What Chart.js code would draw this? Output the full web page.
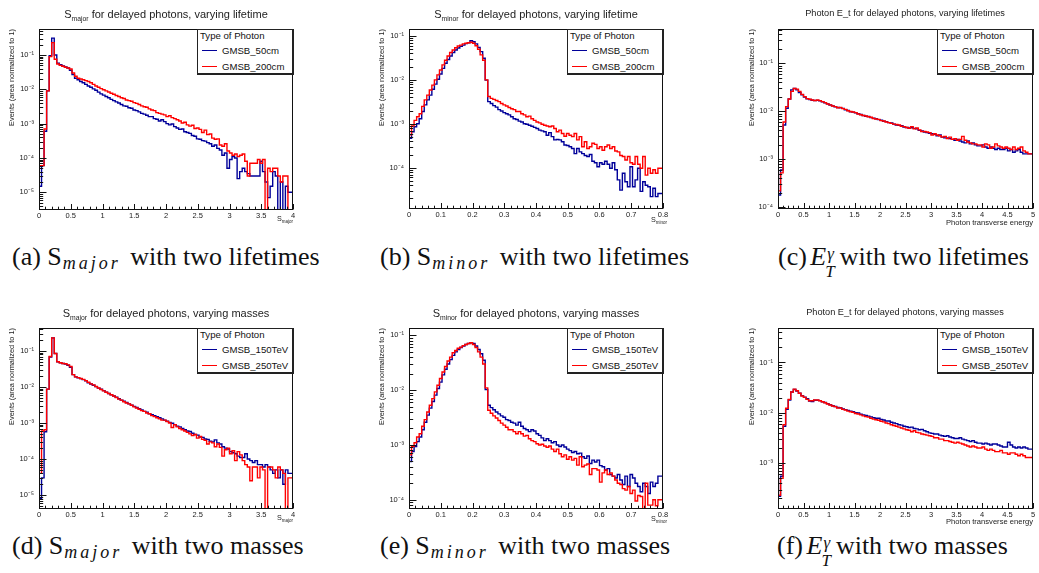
<!DOCTYPE html>
<html>
<head>
<meta charset="utf-8">
<title>Delayed photons: shower shape and transverse energy</title>
<script src="https://cdn.jsdelivr.net/npm/chart.js"></script>
<style>
  html, body { margin: 0; padding: 0; background: #fff; }
  #page { position: relative; width: 1039px; height: 573px; overflow: hidden;
          font-family: "Liberation Sans", Arial, Helvetica, sans-serif; color: #222; }
  #page canvas { position: absolute; }
  .ptitle { position: absolute; white-space: nowrap; line-height: 12px; transform: translateX(-50%); z-index: 2; }
  .ptitle.big { font-size: 11px; }
  .ptitle.small { font-size: 9.2px; }
  .ptitle sub, .xt sub { font-size: 62%; vertical-align: -0.4em; line-height: 0; }
  .xt { position: absolute; font-size: 7.2px; white-space: nowrap; line-height: 8px; z-index: 2; }
  .leg { position: absolute; box-sizing: border-box; width: 97px; height: 46px; background: #fff; color: #111;
         border: solid #222; border-width: 1px 2px 2px 1px; font-size: 9.6px; z-index: 3; }
  .leg div { position: absolute; white-space: nowrap; line-height: 11px; }
  .leg .hd { left: 2px; top: 0px; }
  .leg .sw { left: 4px; width: 15px; height: 0; border-top-width: 1.5px; border-top-style: solid; }
  .leg .tx { left: 24px; color: #111; }
  .cap { position: absolute; font-family: "Liberation Serif", "Times New Roman", serif; font-size: 26px;
         line-height: 26px; color: #111; white-space: nowrap; }
  .cap .ms { font-style: italic; font-size: 18px; letter-spacing: 3px; position: relative; top: 4px;
             margin-left: 1px; margin-right: 3px; }
  .cap .ee { font-style: italic; margin-left: -3px; }
  .cap .ss { display: inline-block; position: relative; width: 9px; height: 10px; margin-right: -2px; }
  .cap .ss i { position: absolute; font-size: 17px; line-height: 17px; }
  .cap .ss .g { left: 1px; top: -10px; }
  .cap .ss .t { left: -1px; top: 8px; }
</style>
</head>
<body>
<div id="page">
  <!-- panel titles -->
  <div class="ptitle big" style="left:166px;top:8px">S<sub>major</sub> for delayed photons, varying lifetime</div>
  <div class="ptitle big" style="left:536px;top:8px">S<sub>minor</sub> for delayed photons, varying lifetime</div>
  <div class="ptitle small" style="left:905px;top:7px">Photon E_t for delayed photons, varying lifetimes</div>
  <div class="ptitle big" style="left:166px;top:307px">S<sub>major</sub> for delayed photons, varying masses</div>
  <div class="ptitle big" style="left:536px;top:307px">S<sub>minor</sub> for delayed photons, varying masses</div>
  <div class="ptitle small" style="left:905px;top:306px">Photon E_t for delayed photons, varying masses</div>

  <!-- x-axis titles with subscripts -->
  <div class="xt" style="right:746px;top:215px">S<sub>major</sub></div>
  <div class="xt" style="right:372px;top:216px">S<sub>minor</sub></div>
  <div class="xt" style="right:746px;top:514px">S<sub>major</sub></div>
  <div class="xt" style="right:372px;top:515px">S<sub>minor</sub></div>

  <!-- legends -->
  <div class="leg" style="left:197px;top:29px">
    <div class="hd">Type of Photon</div>
    <div class="sw" style="top:20px;border-top-color:#000099"></div><div class="tx" style="top:15px">GMSB_50cm</div>
    <div class="sw" style="top:36px;border-top-color:#ff0000"></div><div class="tx" style="top:31px">GMSB_200cm</div>
  </div>
  <div class="leg" style="left:567px;top:29px">
    <div class="hd">Type of Photon</div>
    <div class="sw" style="top:20px;border-top-color:#000099"></div><div class="tx" style="top:15px">GMSB_50cm</div>
    <div class="sw" style="top:36px;border-top-color:#ff0000"></div><div class="tx" style="top:31px">GMSB_200cm</div>
  </div>
  <div class="leg" style="left:937px;top:29px">
    <div class="hd">Type of Photon</div>
    <div class="sw" style="top:20px;border-top-color:#000099"></div><div class="tx" style="top:15px">GMSB_50cm</div>
    <div class="sw" style="top:36px;border-top-color:#ff0000"></div><div class="tx" style="top:31px">GMSB_200cm</div>
  </div>
  <div class="leg" style="left:197px;top:328px">
    <div class="hd">Type of Photon</div>
    <div class="sw" style="top:20px;border-top-color:#000099"></div><div class="tx" style="top:15px">GMSB_150TeV</div>
    <div class="sw" style="top:36px;border-top-color:#ff0000"></div><div class="tx" style="top:31px">GMSB_250TeV</div>
  </div>
  <div class="leg" style="left:567px;top:328px">
    <div class="hd">Type of Photon</div>
    <div class="sw" style="top:20px;border-top-color:#000099"></div><div class="tx" style="top:15px">GMSB_150TeV</div>
    <div class="sw" style="top:36px;border-top-color:#ff0000"></div><div class="tx" style="top:31px">GMSB_250TeV</div>
  </div>
  <div class="leg" style="left:937px;top:328px">
    <div class="hd">Type of Photon</div>
    <div class="sw" style="top:20px;border-top-color:#000099"></div><div class="tx" style="top:15px">GMSB_150TeV</div>
    <div class="sw" style="top:36px;border-top-color:#ff0000"></div><div class="tx" style="top:31px">GMSB_250TeV</div>
  </div>

  <!-- sub-figure captions -->
  <div class="cap" style="left:12px;top:244px">(a) S<span class="ms">major</span> with two lifetimes</div>
  <div class="cap" style="left:380px;top:244px">(b) S<span class="ms">minor</span> with two lifetimes</div>
  <div class="cap" style="left:778px;top:244px">(c) <span class="ee">E</span><span class="ss"><i class="g">γ</i><i class="t">T</i></span> with two lifetimes</div>
  <div class="cap" style="left:12px;top:533px">(d) S<span class="ms">major</span> with two masses</div>
  <div class="cap" style="left:380px;top:533px">(e) S<span class="ms">minor</span> with two masses</div>
  <div class="cap" style="left:777px;top:533px">(f) <span class="ee">E</span><span class="ss"><i class="g">γ</i><i class="t">T</i></span> with two masses</div>
</div>

<script>
// ---------- histogram contents (100 bins each, area normalised to 1) ----------

// S_major, lifetime comparison (x from 0 to 4)
const smajLife50 = [
  6e-5, 1.5e-5, 6e-5, 6e-4, 9e-3, 0.095, 0.31, 0.10, 0.058, 0.052,
  0.048, 0.045, 0.042, 0.036, 0.027, 0.021, 0.019, 0.017, 0.0155, 0.014,
  0.0125, 0.0115, 0.0103, 0.0094, 0.0083, 0.0074, 0.0068, 0.0062, 0.0057, 0.0051,
  0.0047, 0.0043, 0.0040, 0.0036, 0.0033, 0.0032, 0.0029, 0.0028, 0.0025, 0.0024,
  0.0022, 0.0020, 0.0019, 0.00175, 0.0016, 0.0016, 0.0014, 0.00135, 0.0012, 0.0013,
  0.00115, 0.0010, 0.00092, 0.00098, 0.00082, 0.00075, 0.00068, 0.0007, 0.00058, 0.00055,
  0.00052, 0.00045, 0.00043, 0.00036, 0.00035, 0.00032, 0.00031, 0.00028, 0.00026, 0.00022,
  0.00024, 0.00019, 0.00017, 0.00012, 0.00014, 0.00005, 0.00009, 0.00011, 0.0001, 0.000025,
  0.00004, 0.00005, 0.00004, 0.000035, 0.00003, 0.00003, 0.00003, 0.00003, 0.00008, 0.00004,
  0.00002, 0.000007, 0.000015, 0.00004, 0.00003, 0, 0.00002, 0, 0.000015, 0.00001
];
const smajLife200 = [
  9e-4, 6e-5, 6e-5, 7e-4, 9e-3, 0.09, 0.23, 0.075, 0.055, 0.05,
  0.047, 0.044, 0.042, 0.039, 0.03, 0.024, 0.021, 0.020, 0.019, 0.018,
  0.017, 0.0155, 0.014, 0.0125, 0.0115, 0.0105, 0.0097, 0.009, 0.0084, 0.0077,
  0.0072, 0.0066, 0.0062, 0.0057, 0.0054, 0.0049, 0.0047, 0.0045, 0.0041, 0.0039,
  0.0036, 0.0033, 0.0031, 0.0030, 0.0027, 0.0025, 0.0024, 0.0021, 0.0020, 0.0019,
  0.0018, 0.0016, 0.0017, 0.0015, 0.0014, 0.0013, 0.0012, 0.00105, 0.0011, 0.00092,
  0.00085, 0.0009, 0.00072, 0.00075, 0.00068, 0.00055, 0.00065, 0.00048, 0.0005, 0.00038,
  0.00035, 0.00036, 0.00024, 0.00022, 0.00026, 0.00016, 0.00014, 0.00012, 0.00013, 0.00011,
  0.00012, 0.00013, 0.00008, 0.00003, 0.00007, 0.00007, 0.00007, 0.00009, 0.00007, 0.00009,
  0, 0.00005, 0.00004, 0.00005, 0.00005, 0.00003, 0.00002, 0.00003, 0.00003, 0
];

// S_minor, lifetime comparison (x from 0 to 0.8)
const sminLife50 = [
  8e-4, 4.7e-4, 6.6e-4, 8.6e-4, 1.0e-3, 1.3e-3, 1.9e-3, 2.7e-3, 3.5e-3, 4.5e-3,
  6.1e-3, 8e-3, 0.0103, 0.0136, 0.0183, 0.024, 0.029, 0.035, 0.042, 0.048,
  0.053, 0.058, 0.062, 0.067, 0.070, 0.078, 0.074, 0.066, 0.055, 0.044,
  0.031, 0.0099, 3.2e-3, 2.9e-3, 2.6e-3, 2.4e-3, 2.1e-3, 1.95e-3, 1.8e-3, 1.7e-3,
  1.6e-3, 1.45e-3, 1.3e-3, 1.25e-3, 1.15e-3, 1.1e-3, 1.0e-3, 9.8e-4, 9.3e-4, 8.8e-4,
  8.3e-4, 7.8e-4, 7.2e-4, 6.9e-4, 6.6e-4, 5.5e-4, 6.3e-4, 5.1e-4, 4.3e-4, 4.4e-4,
  4.3e-4, 3.9e-4, 3.3e-4, 3.2e-4, 3.0e-4, 2.75e-4, 2.1e-4, 2.75e-4, 2.3e-4, 2.1e-4,
  1.9e-4, 1.8e-4, 2.0e-4, 1.4e-4, 1.3e-4, 1.05e-4, 1.3e-4, 1.2e-4, 1.4e-4, 1.2e-4,
  9.7e-5, 1.3e-4, 9e-5, 5.3e-5, 3.1e-5, 7.5e-5, 4.8e-5, 3.7e-5, 1.05e-4, 3.7e-5,
  5.3e-5, 9.7e-5, 2.9e-5, 4.8e-5, 4e-5, 3.7e-5, 2.2e-5, 3.4e-5, 2.2e-5, 2.6e-5
];
const sminLife200 = [
  4e-3, 5.6e-4, 8.9e-4, 1.2e-3, 1.45e-3, 1.7e-3, 2.5e-3, 3.5e-3, 4.5e-3, 5.9e-3,
  7.6e-3, 0.01, 0.013, 0.0168, 0.022, 0.028, 0.035, 0.042, 0.048, 0.054,
  0.059, 0.062, 0.066, 0.068, 0.070, 0.072, 0.068, 0.060, 0.050, 0.037,
  0.028, 0.01, 4.2e-3, 3.8e-3, 3.6e-3, 3.4e-3, 3.2e-3, 2.9e-3, 2.7e-3, 2.55e-3,
  2.35e-3, 2.2e-3, 2.1e-3, 1.9e-3, 1.9e-3, 1.7e-3, 1.6e-3, 1.45e-3, 1.5e-3, 1.3e-3,
  1.2e-3, 1.1e-3, 1.05e-3, 9.8e-4, 9.3e-4, 8.9e-4, 8.6e-4, 8.9e-4, 7.8e-4, 6.6e-4,
  7.2e-4, 6.0e-4, 5.2e-4, 6.0e-4, 5.5e-4, 5.1e-4, 6.0e-4, 4.3e-4, 5.1e-4, 3.0e-4,
  3.9e-4, 2.75e-4, 3.0e-4, 3.6e-4, 3.4e-4, 2.75e-4, 3.0e-4, 2.5e-4, 3.0e-4, 3.3e-4,
  2.75e-4, 3.0e-4, 2.4e-4, 2.3e-4, 1.9e-4, 1.8e-4, 1.5e-4, 1.8e-4, 1.3e-4, 1.2e-4,
  1.8e-4, 1.2e-4, 9.7e-5, 1.8e-4, 6.8e-5, 9.7e-5, 7.5e-5, 9e-5, 7.5e-5, 9.7e-5
];

// Photon transverse energy, lifetime comparison (x from 0 to 5)
const etLife50 = [
  0.27, 1.8e-4, 6e-4, 5.2e-3, 0.0116, 0.018, 0.028, 0.030, 0.028, 0.0245,
  0.022, 0.0198, 0.0182, 0.0176, 0.0170, 0.0168, 0.0169, 0.0165, 0.0158, 0.0150,
  0.0143, 0.0135, 0.0130, 0.0124, 0.0120, 0.0118, 0.0115, 0.0108, 0.0104, 0.0098,
  0.0096, 0.0093, 0.0089, 0.0086, 0.0082, 0.0079, 0.0078, 0.0074, 0.0072, 0.0070,
  0.0067, 0.0065, 0.0062, 0.0061, 0.0058, 0.0057, 0.0054, 0.0052, 0.0051, 0.0050,
  0.0047, 0.0046, 0.0045, 0.0046, 0.0044, 0.0043, 0.0040, 0.0039, 0.0037, 0.0036,
  0.0035, 0.0034, 0.0033, 0.0031, 0.0032, 0.0029, 0.0028, 0.0028, 0.0027, 0.0026,
  0.0025, 0.0026, 0.0024, 0.0023, 0.0022, 0.0024, 0.0021, 0.0022, 0.0020, 0.0019,
  0.0019, 0.0020, 0.0018, 0.0017, 0.0018, 0.0017, 0.0016, 0.0017, 0.0016, 0.0016,
  0.0017, 0.0015, 0.0016, 0.0014, 0.0015, 0.0016, 0.0014, 0.0013, 0.0013, 0.0013
];
const etLife200 = [
  0.28, 2.2e-4, 5.2e-4, 6e-3, 0.0125, 0.018, 0.026, 0.030, 0.029, 0.026,
  0.0226, 0.0202, 0.0184, 0.0178, 0.0172, 0.0167, 0.0172, 0.0167, 0.0159, 0.0152,
  0.0142, 0.0136, 0.0129, 0.0125, 0.0119, 0.0121, 0.0114, 0.011, 0.0103, 0.0099,
  0.0097, 0.0094, 0.0088, 0.0085, 0.0082, 0.0080, 0.0077, 0.0075, 0.0071, 0.0069,
  0.0068, 0.0064, 0.0063, 0.0060, 0.0058, 0.0056, 0.0054, 0.0053, 0.0052, 0.0049,
  0.0048, 0.0046, 0.0044, 0.0048, 0.0043, 0.0045, 0.0041, 0.0038, 0.0038, 0.0037,
  0.0036, 0.0032, 0.0034, 0.0032, 0.0031, 0.0029, 0.0030, 0.0027, 0.0029, 0.0026,
  0.0027, 0.0025, 0.0026, 0.0030, 0.0025, 0.0023, 0.0022, 0.0021, 0.0021, 0.0020,
  0.0020, 0.0018, 0.0021, 0.0020, 0.0017, 0.0018, 0.0021, 0.0019, 0.0018, 0.0017,
  0.0018, 0.0017, 0.0016, 0.0018, 0.0016, 0.0017, 0.0018, 0.0015, 0.0014, 0.0013
];

// S_major, mass comparison
const smajMass150 = [
  1.6e-3, 8e-6, 3e-5, 5.7e-4, 8.7e-3, 0.068, 0.23, 0.085, 0.05, 0.047,
  0.045, 0.043, 0.040, 0.035, 0.022, 0.019, 0.018, 0.017, 0.016, 0.0148,
  0.013, 0.0121, 0.0112, 0.0102, 0.0093, 0.0086, 0.0079, 0.0072, 0.0066, 0.0061,
  0.0056, 0.0052, 0.0047, 0.0043, 0.0040, 0.0037, 0.0034, 0.0031, 0.0029, 0.0027,
  0.0025, 0.0023, 0.0021, 0.0020, 0.0018, 0.0017, 0.0016, 0.0015, 0.0014, 0.0013,
  0.0012, 0.00112, 0.00104, 0.00098, 0.0009, 0.00082, 0.00078, 0.0007, 0.00065, 0.0006,
  0.00058, 0.00052, 0.00048, 0.00046, 0.00041, 0.0004, 0.00036, 0.00035, 0.00031, 0.0003,
  0.00034, 0.00028, 0.00026, 0.00022, 0.0002, 0.00019, 0.00016, 0.00015, 0.00014, 0.00012,
  0.00011, 0.00011, 0.00014, 0.0001, 0.00009, 0.00008, 0.00009, 0.00007, 0.00007, 0.00006,
  0.00007, 0.00006, 0.00005, 0.00004, 0.00005, 0.00003, 0.00005, 0.00002, 0.00005, 0.00004
];
const smajMass250 = [
  9e-4, 4e-5, 6e-4, 6.5e-4, 8.7e-3, 0.07, 0.23, 0.085, 0.05, 0.047,
  0.045, 0.044, 0.041, 0.037, 0.022, 0.019, 0.0182, 0.0172, 0.0162, 0.015,
  0.0135, 0.0122, 0.0114, 0.0103, 0.0094, 0.0085, 0.0078, 0.0071, 0.0066, 0.0061,
  0.0056, 0.0051, 0.0046, 0.0043, 0.0039, 0.0036, 0.0034, 0.0031, 0.0028, 0.0026,
  0.0024, 0.0022, 0.0021, 0.0019, 0.0018, 0.0016, 0.0015, 0.0014, 0.0013, 0.0012,
  0.0012, 0.0011, 0.0010, 0.00075, 0.0009, 0.00078, 0.0007, 0.00065, 0.0006, 0.00055,
  0.0005, 0.00045, 0.00048, 0.00038, 0.00042, 0.00035, 0.00033, 0.00026, 0.0003, 0.00028,
  0.00022, 0.00026, 0.00021, 0.00012, 0.00018, 0.0002, 0.00014, 0.00017, 0.00009, 0.00016,
  0.00013, 0.00009, 0.00007, 0.00006, 0.000025, 0.00006, 0.00006, 0.00003, 0.00006, 0.00005,
  0, 0.00006, 0.00006, 0.00005, 0.00003, 0.00006, 0.00005, 0.00004, 0, 0.00003
];

// S_minor, mass comparison
const sminMass150 = [
  5.3e-3, 5e-4, 7.6e-4, 9.4e-4, 1.15e-3, 1.4e-3, 1.9e-3, 2.6e-3, 3.5e-3, 4.7e-3,
  6.2e-3, 8.1e-3, 0.0107, 0.014, 0.019, 0.024, 0.030, 0.036, 0.043, 0.050,
  0.055, 0.060, 0.064, 0.068, 0.071, 0.073, 0.071, 0.064, 0.055, 0.046,
  0.035, 0.0103, 5.3e-3, 4.8e-3, 4.4e-3, 4.0e-3, 3.7e-3, 3.4e-3, 3.2e-3, 2.9e-3,
  2.8e-3, 2.6e-3, 2.5e-3, 2.3e-3, 2.6e-3, 2.2e-3, 2.0e-3, 1.9e-3, 1.75e-3, 1.9e-3,
  1.8e-3, 1.6e-3, 1.5e-3, 1.35e-3, 1.2e-3, 1.3e-3, 1.2e-3, 1.1e-3, 1.15e-3, 1.0e-3,
  9.4e-4, 1.0e-3, 9.2e-4, 8.4e-4, 7.9e-4, 7.3e-4, 7.6e-4, 6.9e-4, 7.1e-4, 6.1e-4,
  5.7e-4, 6.3e-4, 4.6e-4, 5.3e-4, 4.9e-4, 5.3e-4, 4.2e-4, 4.0e-4, 3.5e-4, 3.7e-4,
  2.9e-4, 2.7e-4, 2.5e-4, 2.9e-4, 2.3e-4, 1.9e-4, 2.7e-4, 1.75e-4, 2.9e-4, 2.5e-4,
  2.0e-4, 1.75e-4, 1.4e-4, 2.0e-4, 1.75e-4, 1.3e-4, 2.1e-4, 1.75e-4, 2.0e-4, 2.7e-4
];
const sminMass250 = [
  4.3e-3, 6.6e-4, 9.4e-4, 1.1e-3, 1.4e-3, 1.6e-3, 2.2e-3, 2.9e-3, 4e-3, 5.3e-3,
  7e-3, 9.3e-3, 0.0123, 0.0163, 0.0215, 0.027, 0.034, 0.040, 0.048, 0.053,
  0.058, 0.061, 0.065, 0.068, 0.071, 0.073, 0.068, 0.060, 0.050, 0.040,
  0.030, 0.011, 4.3e-3, 3.8e-3, 3.4e-3, 3.1e-3, 2.8e-3, 2.5e-3, 2.3e-3, 2.1e-3,
  1.9e-3, 1.9e-3, 1.75e-3, 1.6e-3, 1.75e-3, 1.6e-3, 1.45e-3, 1.5e-3, 1.3e-3, 1.2e-3,
  1.15e-3, 1.05e-3, 1e-3, 1.03e-3, 9.6e-4, 9.1e-4, 9.6e-4, 8.4e-4, 7.6e-4, 8.4e-4,
  6.9e-4, 6.1e-4, 6.6e-4, 5.5e-4, 6.1e-4, 5.3e-4, 5.7e-4, 4.3e-4, 6.1e-4, 4.0e-4,
  4.3e-4, 4.5e-4, 2.9e-4, 3.7e-4, 3.7e-4, 3.5e-4, 2.1e-4, 3.1e-4, 3.5e-4, 2.9e-4,
  3.1e-4, 2.7e-4, 2.3e-4, 2.0e-4, 1.9e-4, 1.6e-4, 1.5e-4, 1.75e-4, 1.3e-4, 1.5e-4,
  9.5e-5, 1.2e-4, 1.15e-4, 0, 2e-4, 8e-5, 8e-5, 1e-4, 7.8e-5, 1e-4
];

// Photon transverse energy, mass comparison
const etMass150 = [
  0.28, 2.2e-4, 5.5e-4, 5.4e-3, 0.0118, 0.018, 0.026, 0.029, 0.027, 0.0245,
  0.022, 0.0205, 0.019, 0.0172, 0.0168, 0.0178, 0.0178, 0.0175, 0.0166, 0.016,
  0.0152, 0.0145, 0.0138, 0.0134, 0.0128, 0.0126, 0.012, 0.0116, 0.0112, 0.0108,
  0.0105, 0.0101, 0.0099, 0.0094, 0.0091, 0.0089, 0.0086, 0.0083, 0.0080, 0.0078,
  0.0078, 0.0074, 0.0072, 0.0069, 0.0069, 0.0065, 0.0063, 0.0061, 0.0058, 0.0057,
  0.0054, 0.0053, 0.0051, 0.0052, 0.0049, 0.0048, 0.0046, 0.0047, 0.0044, 0.0042,
  0.0040, 0.0039, 0.0038, 0.0038, 0.0036, 0.0035, 0.0034, 0.0035, 0.0033, 0.0032,
  0.0031, 0.0031, 0.0032, 0.0030, 0.0029, 0.0028, 0.0027, 0.0028, 0.0026, 0.0025,
  0.0025, 0.0024, 0.0025, 0.0024, 0.0023, 0.0024, 0.0024, 0.0023, 0.0022, 0.0021,
  0.0021, 0.0026, 0.0023, 0.0021, 0.0020, 0.0021, 0.0020, 0.0021, 0.0020, 0.0019
];
const etMass250 = [
  0.28, 2.3e-4, 5e-4, 5.8e-3, 0.0123, 0.0185, 0.026, 0.0296, 0.0275, 0.0245,
  0.0216, 0.0203, 0.0185, 0.0174, 0.0174, 0.018, 0.018, 0.0174, 0.0166, 0.0159,
  0.015, 0.0143, 0.0137, 0.0133, 0.0125, 0.0125, 0.0117, 0.0114, 0.0108, 0.0105,
  0.0102, 0.0097, 0.0095, 0.0091, 0.0087, 0.0084, 0.0082, 0.0078, 0.0075, 0.0073,
  0.0071, 0.0068, 0.0066, 0.0063, 0.0061, 0.0058, 0.0056, 0.0054, 0.0052, 0.0050,
  0.0048, 0.0046, 0.0045, 0.0042, 0.0044, 0.0041, 0.0040, 0.0038, 0.0037, 0.0036,
  0.0035, 0.0034, 0.0032, 0.0032, 0.0030, 0.0030, 0.0028, 0.0028, 0.0027, 0.0026,
  0.0025, 0.0026, 0.0025, 0.0024, 0.0023, 0.0022, 0.0021, 0.0022, 0.0021, 0.0020,
  0.0020, 0.0021, 0.0019, 0.0018, 0.0019, 0.0018, 0.0017, 0.0017, 0.0018, 0.0016,
  0.0016, 0.0015, 0.0016, 0.0016, 0.0015, 0.0014, 0.0015, 0.0014, 0.0013, 0.0013
];

// ---------- axis ranges and tick labels ----------
const smajRange = [0, 4];
const sminRange = [0, 0.8];
const etRange = [0, 5];
const smajTicks = ['0', '0.5', '1', '1.5', '2', '2.5', '3', '3.5', '4'];
const sminTicks = ['0', '0.1', '0.2', '0.3', '0.4', '0.5', '0.6', '0.7', '0.8'];
const etTicks = ['0', '0.5', '1', '1.5', '2', '2.5', '3', '3.5', '4', '4.5', '5'];

const smajLifeY = [3.05e-6, 0.573];
const sminLifeY = [1.15e-5, 0.144];
const etLifeY = [9.2e-5, 0.52];
const smajMassY = [4.1e-6, 0.433];
const sminMassY = [6.8e-5, 0.136];
const etMassY = [1.23e-4, 0.484];

const decades5 = [1e-5, 1e-4, 1e-3, 1e-2, 1e-1];
const decades4 = [1e-4, 1e-3, 1e-2, 1e-1];
const decades3 = [1e-3, 1e-2, 1e-1];

const lifetimeNames = ['GMSB_50cm', 'GMSB_200cm'];
const massNames = ['GMSB_150TeV', 'GMSB_250TeV'];
const yTitle = 'Events (area normalized to 1)';

// ---------- drawing ----------
Chart.defaults.font.family = '"Liberation Sans", Arial, Helvetica, sans-serif';
Chart.defaults.color = '#222';

const SUP = { '-': '\u207B', '0': '\u2070', '1': '\u00B9', '2': '\u00B2', '3': '\u00B3',
              '4': '\u2074', '5': '\u2075', '6': '\u2076', '7': '\u2077', '8': '\u2078', '9': '\u2079' };
function decadeLabel(v) {
  const e = Math.round(Math.log10(v));
  return '10' + String(e).split('').map(c => SUP[c]).join('');
}

// histogram bins -> step outline points (bin low edges plus the closing edge)
function histPoints(vals, range, floor) {
  const w = (range[1] - range[0]) / vals.length;
  const pts = vals.map((v, i) => ({ x: range[0] + i * w, y: Math.max(v, floor) }));
  pts.push({ x: range[1], y: Math.max(vals[vals.length - 1], floor) });
  return pts;
}

// frame box plus inward-pointing major/minor ticks on the left and bottom axes
const rootFrame = {
  id: 'rootFrame',
  afterDatasetsDraw(chart, args, opts) {
    const { ctx, chartArea: a, scales: { x, y } } = chart;
    const L = Math.round(a.left) + 0.5, R = Math.round(a.right) - 0.5;
    const T = Math.round(a.top) + 0.5, B = Math.round(a.bottom) - 0.5;
    ctx.save();
    ctx.strokeStyle = '#111';
    ctx.lineWidth = 1;
    ctx.beginPath();
    // x axis ticks
    const n = Math.round((x.max - x.min) / opts.xMinor);
    for (let k = 0; k <= n; k++) {
      const v = x.min + k * opts.xMinor;
      const major = opts.xMajor.some(m => Math.abs(m - v) < opts.xMinor * 0.01);
      const px = Math.round(x.getPixelForValue(v)) + 0.5;
      ctx.moveTo(px, B);
      ctx.lineTo(px, B - (major ? 5.5 : 2.8));
    }
    // y axis ticks (log)
    const e0 = Math.floor(Math.log10(y.min)), e1 = Math.ceil(Math.log10(y.max));
    for (let e = e0; e <= e1; e++) {
      for (let k = 1; k <= 9; k++) {
        const v = k * Math.pow(10, e);
        if (v < y.min || v > y.max) continue;
        const py = Math.round(y.getPixelForValue(v)) + 0.5;
        ctx.moveTo(L, py);
        ctx.lineTo(L + (k === 1 ? 7 : 3.7), py);
      }
    }
    ctx.stroke();
    ctx.strokeRect(L, T, R - L, B - T);
    ctx.restore();
  }
};

const panels = [
  { blue: smajLife50, red: smajLife200, names: lifetimeNames, xr: smajRange, xt: smajTicks, xMinor: 0.1,
    yr: smajLifeY, yd: decades5, box: [0, 0, 346, 232], area: [39, 293, 29, 210], yTitleX: 12, xTitle: '' },
  { blue: sminLife50, red: sminLife200, names: lifetimeNames, xr: sminRange, xt: sminTicks, xMinor: 0.02,
    yr: sminLifeY, yd: decades4, box: [346, 0, 346, 232], area: [409, 663, 29, 209], yTitleX: 36, xTitle: '' },
  { blue: etLife50, red: etLife200, names: lifetimeNames, xr: etRange, xt: etTicks, xMinor: 0.1,
    yr: etLifeY, yd: decades4, box: [692, 0, 347, 232], area: [778, 1033, 29, 209], yTitleX: 60, xTitle: 'Photon transverse energy' },
  { blue: smajMass150, red: smajMass250, names: massNames, xr: smajRange, xt: smajTicks, xMinor: 0.1,
    yr: smajMassY, yd: decades5, box: [0, 299, 346, 232], area: [39, 293, 328, 509], yTitleX: 12, xTitle: '' },
  { blue: sminMass150, red: sminMass250, names: massNames, xr: sminRange, xt: sminTicks, xMinor: 0.02,
    yr: sminMassY, yd: decades4, box: [346, 299, 346, 232], area: [409, 663, 328, 509], yTitleX: 36, xTitle: '' },
  { blue: etMass150, red: etMass250, names: massNames, xr: etRange, xt: etTicks, xMinor: 0.1,
    yr: etMassY, yd: decades3, box: [692, 299, 347, 232], area: [778, 1033, 328, 509], yTitleX: 60, xTitle: 'Photon transverse energy' }
];

const page = document.getElementById('page');
panels.forEach(p => {
  const [bx, by, bw, bh] = p.box;
  const [al, ar, at, ab] = p.area;
  const cv = document.createElement('canvas');
  cv.width = bw; cv.height = bh;
  cv.style.left = bx + 'px'; cv.style.top = by + 'px';
  cv.style.width = bw + 'px'; cv.style.height = bh + 'px';
  page.insertBefore(cv, page.firstChild);

  const yW = al - bx;
  const xH = by + bh - ab;
  const xMajor = p.xt.map(Number);
  const yTitleFont = 7.4;

  new Chart(cv.getContext('2d'), {
    type: 'line',
    data: {
      datasets: [
        { label: p.names[1], data: histPoints(p.red, p.xr, p.yr[0]), borderColor: '#ff0000',
          borderWidth: 1.4, stepped: 'after', pointRadius: 0, fill: false, order: 0 },
        { label: p.names[0], data: histPoints(p.blue, p.xr, p.yr[0]), borderColor: '#000099',
          borderWidth: 1.4, stepped: 'after', pointRadius: 0, fill: false, order: 1 }
      ]
    },
    options: {
      responsive: false,
      animation: false,
      devicePixelRatio: 1,
      events: [],
      layout: { padding: { left: 0, right: bx + bw - ar, top: at - by, bottom: 0 } },
      plugins: {
        legend: { display: false },
        tooltip: { enabled: false },
        title: { display: false },
        rootFrame: { xMinor: p.xMinor, xMajor: xMajor }
      },
      scales: {
        x: {
          type: 'linear', min: p.xr[0], max: p.xr[1],
          afterBuildTicks: s => { s.ticks = xMajor.map(v => ({ value: v })); },
          afterFit: s => { s.height = xH; },
          grid: { display: false, drawTicks: false },
          border: { display: false },
          ticks: { autoSkip: false, maxRotation: 0, padding: 1.5, font: { size: 7.5 }, color: '#222',
                   callback: (v, i) => p.xt[i] },
          title: { display: p.xTitle !== '', text: p.xTitle, align: 'end', font: { size: 7.6 },
                   color: '#222', padding: { top: 0, bottom: 5 } }
        },
        y: {
          type: 'logarithmic', min: p.yr[0], max: p.yr[1],
          afterBuildTicks: s => { s.ticks = p.yd.map(v => ({ value: v })); },
          afterFit: s => { s.width = yW; },
          grid: { display: false, drawTicks: false },
          border: { display: false },
          ticks: { autoSkip: false, padding: 5, font: { size: 7.5 }, color: '#222',
                   callback: v => decadeLabel(v) },
          title: { display: true, text: yTitle, align: 'end', font: { size: yTitleFont }, color: '#222',
                   padding: { top: p.yTitleX - yTitleFont * 0.6, bottom: 0 } }
        }
      }
    },
    plugins: [rootFrame]
  });
});
</script>
</body>
</html>
